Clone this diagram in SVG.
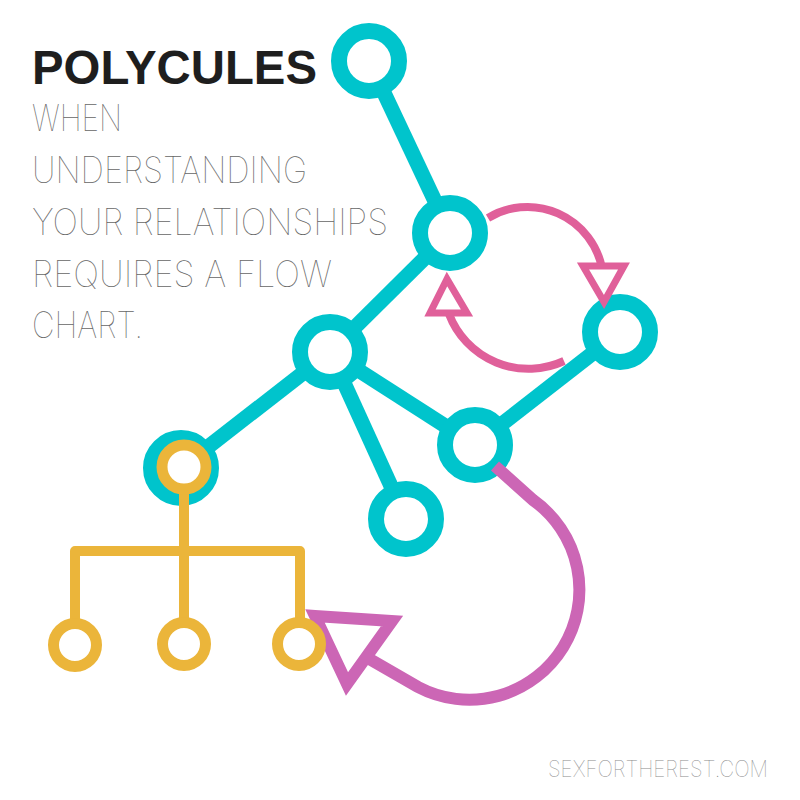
<svg xmlns="http://www.w3.org/2000/svg" width="800" height="800" viewBox="0 0 800 800">
  <style>
    .edge { stroke: #00C4CC; stroke-width: 15; fill: none; }
    .ring { stroke: #00C4CC; stroke-width: 16; fill: #ffffff; }
    .pink { stroke: #E0609A; fill: none; }
    .mag { stroke: #CC66B5; fill: none; }
    .yline { stroke: #EBB53A; stroke-width: 10; fill: none; stroke-linejoin: round; }
    .yring { stroke: #EBB53A; stroke-width: 11; fill: #ffffff; }
    .title { font-family: "Liberation Sans", Arial, sans-serif; font-weight: 700; font-size: 48px; fill: #1e1e1e; }
    .thin { font-family: Inter, Lato, "Liberation Sans", sans-serif; font-weight: 100; font-size: 36px; fill: #666666; }
    .site { font-family: Inter, Lato, "Liberation Sans", sans-serif; font-weight: 100; font-size: 23px; fill: #8a8a8a; }
  </style>
  <rect width="800" height="800" fill="#ffffff"/>

  <g id="text">
    <text class="title" x="32" y="84" textLength="285" lengthAdjust="spacingAndGlyphs">POLYCULES</text>
    <text class="thin" x="32" y="131" textLength="90" lengthAdjust="spacingAndGlyphs">WHEN</text>
    <text class="thin" x="32" y="183" textLength="275" lengthAdjust="spacingAndGlyphs">UNDERSTANDING</text>
    <text class="thin" x="32" y="235" textLength="356" lengthAdjust="spacingAndGlyphs">YOUR RELATIONSHIPS</text>
    <text class="thin" x="32" y="287" textLength="300" lengthAdjust="spacingAndGlyphs">REQUIRES A FLOW</text>
    <text class="thin" x="32" y="338" textLength="111" lengthAdjust="spacingAndGlyphs">CHART.</text>
    <text class="site" x="548" y="777" textLength="220" lengthAdjust="spacingAndGlyphs">SEXFORTHEREST.COM</text>
  </g>

  <g id="connectors">
    <line class="edge" x1="369" y1="61" x2="450" y2="233"/>
    <line class="edge" x1="450" y1="233" x2="330" y2="352"/>
    <line class="edge" x1="330" y1="352" x2="181" y2="468"/>
    <line class="edge" x1="330" y1="352" x2="406" y2="519"/>
    <line class="edge" x1="330" y1="352" x2="475" y2="445"/>
    <line class="edge" x1="475" y1="445" x2="620" y2="332"/>
  </g>

  <g id="node-a"><circle class="ring" cx="369" cy="61" r="30"/></g>
  <g id="node-b"><circle class="ring" cx="450" cy="233" r="30"/></g>
  <g id="node-c"><circle class="ring" cx="620" cy="332" r="30"/></g>
  <g id="node-d"><circle class="ring" cx="330" cy="352" r="30" stroke-width="19"/></g>
  <g id="node-e"><circle class="ring" cx="475" cy="445" r="30"/></g>
  <g id="node-f"><circle class="ring" cx="406" cy="519" r="30"/></g>
  <g id="node-g"><circle class="ring" cx="181" cy="468" r="30"/></g>

  <g id="arrows">
    <path class="pink" stroke-width="8" d="M 488 218 A 76 76 0 0 1 602 268"/>
    <polygon class="pink" stroke-width="7" points="583,266 624,266 604,302"/>
    <path class="pink" stroke-width="8" d="M 564 361 A 85 85 0 0 1 449 314"/>
    <polygon class="pink" stroke-width="7" points="430,313 467,313 447,279"/>
    <path class="mag" stroke-width="12" d="M 495 466 L 533 500 A 110 110 0 0 1 418 687 L 366 657"/>
    <polygon class="mag" stroke-width="12" points="315,616 392,621 347,684"/>
  </g>

  <g id="tree-connectors">
    <line class="yline" x1="184" y1="489" x2="184" y2="623"/>
    <polyline class="yline" points="75,623 75,551 300,551 300,623"/>
  </g>
  <g id="node-g-inner"><circle class="yring" cx="184" cy="467" r="22" stroke-width="10"/></g>
  <g id="node-y1"><circle class="yring" cx="75" cy="645" r="21.5"/></g>
  <g id="node-y2"><circle class="yring" cx="184" cy="644" r="21.5"/></g>
  <g id="node-y3"><circle class="yring" cx="299" cy="644" r="21.5"/></g>
</svg>
